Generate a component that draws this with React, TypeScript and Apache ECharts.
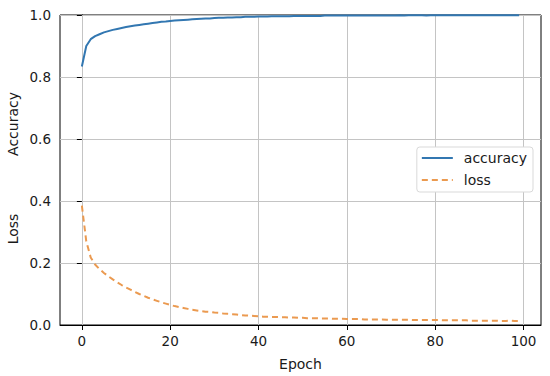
import React, { useEffect, useRef } from "react";
import * as echarts from "echarts";

const epochs: number[] = Array.from({ length: 100 }, (_, i) => i);

const accuracy: number[] = [
  0.834, 0.9, 0.922, 0.932, 0.938, 0.944, 0.948, 0.952, 0.955, 0.958,
  0.961, 0.964, 0.966, 0.968, 0.97, 0.972, 0.974, 0.976, 0.978, 0.979,
  0.981, 0.982, 0.983, 0.984, 0.985, 0.986, 0.987, 0.988, 0.989, 0.989,
  0.99, 0.991, 0.991, 0.992, 0.992, 0.993, 0.993, 0.994, 0.994, 0.994,
  0.995, 0.995, 0.995, 0.996, 0.996, 0.996, 0.996, 0.996, 0.997, 0.997,
  0.997, 0.997, 0.997, 0.997, 0.997, 0.998, 0.998, 0.998, 0.998, 0.998,
  0.998, 0.998, 0.998, 0.998, 0.998, 0.998, 0.998, 0.998, 0.998, 0.998,
  0.998, 0.998, 0.999, 0.998, 0.999, 0.999, 0.999, 0.999, 0.998, 0.999,
  0.999, 0.999, 0.999, 0.999, 0.999, 0.999, 0.999, 0.999, 0.999, 0.999,
  0.999, 0.999, 0.999, 0.999, 0.999, 0.999, 0.999, 0.999, 0.999, 0.999,
];

const loss: number[] = [
  0.385, 0.27, 0.218, 0.195, 0.18, 0.168, 0.157, 0.147, 0.138, 0.129,
  0.121, 0.114, 0.107, 0.1, 0.094, 0.088, 0.083, 0.078, 0.073, 0.069,
  0.065, 0.061, 0.058, 0.055, 0.052, 0.049, 0.047, 0.045, 0.043, 0.042,
  0.04, 0.039, 0.037, 0.036, 0.035, 0.034, 0.032, 0.031, 0.03, 0.029,
  0.028, 0.027, 0.027, 0.026, 0.026, 0.025, 0.025, 0.024, 0.024, 0.023,
  0.023, 0.022, 0.022, 0.022, 0.021, 0.021, 0.021, 0.02, 0.02, 0.02,
  0.019, 0.019, 0.019, 0.019, 0.018, 0.018, 0.018, 0.018, 0.018, 0.017,
  0.017, 0.017, 0.017, 0.017, 0.017, 0.016, 0.016, 0.016, 0.016, 0.016,
  0.016, 0.016, 0.015, 0.015, 0.015, 0.015, 0.015, 0.015, 0.014, 0.014,
  0.014, 0.014, 0.014, 0.014, 0.014, 0.013, 0.013, 0.014, 0.013, 0.013,
];

const xTicks: number[] = [0, 20, 40, 60, 80, 100];
const seriesNames: string[] = ["accuracy", "loss"];

const FONT = "DejaVu Sans";
const TEXT = "#1a1a1a";

export default function App() {
  const ref = useRef<HTMLDivElement>(null);
  useEffect(() => {
    if (!ref.current) return;
    const chart = echarts.init(ref.current, undefined, { renderer: "svg" });
    chart.setOption({
      animation: false,
      backgroundColor: "#ffffff",
      textStyle: { fontFamily: FONT },
      grid: {
        left: 60,
        right: 9,
        top: 15,
        bottom: 50,
        show: true,
        borderColor: "#000000",
        borderWidth: 1,
        backgroundColor: "transparent",
      },
      legend: {
        orient: "vertical",
        right: 17,
        top: 147,
        data: seriesNames,
        itemWidth: 31,
        itemHeight: 14,
        itemGap: 8,
        padding: [4, 6, 5, 4],
        backgroundColor: "#ffffff",
        borderColor: "#d9d9d9",
        borderWidth: 1,
        borderRadius: 3,
        itemStyle: { color: "rgba(0,0,0,0)", borderColor: "rgba(0,0,0,0)", borderWidth: 0 },
        textStyle: { fontFamily: FONT, fontSize: 14, color: TEXT, padding: [0, 0, 0, 6] },
      },
      xAxis: {
        type: "value",
        min: -4.95,
        max: 103.95,
        name: "Epoch",
        nameLocation: "middle",
        nameGap: 32,
        nameTextStyle: { fontFamily: FONT, fontSize: 14, color: TEXT },
        axisLine: { show: true, onZero: false, lineStyle: { color: "#000", width: 1 } },
        axisTick: {
          show: true,
          inside: false,
          length: 5,
          customValues: xTicks,
          lineStyle: { color: "#000" },
        },
        axisLabel: {
          customValues: xTicks,
          margin: 9,
          fontFamily: FONT,
          fontSize: 13.5,
          color: TEXT,
        },
        splitLine: { show: false },
      },
      yAxis: {
        type: "value",
        min: 0,
        max: 1,
        interval: 0.2,
        axisLine: { show: true, lineStyle: { color: "#000", width: 1 } },
        axisTick: { show: true, length: 5, lineStyle: { color: "#000" } },
        axisLabel: {
          margin: 9,
          fontFamily: FONT,
          fontSize: 13.5,
          color: TEXT,
          formatter: (v: number) => v.toFixed(1),
        },
        splitLine: { show: true, lineStyle: { color: "#c4c4c4", width: 1 } },
      },
      graphic: [
        {
          type: "text",
          x: 13,
          y: 124,
          rotation: Math.PI / 2,
          style: {
            text: "Accuracy",
            fontFamily: FONT,
            fontSize: 14,
            fill: TEXT,
            textAlign: "center",
            textVerticalAlign: "middle",
          },
        },
        {
          type: "text",
          x: 13,
          y: 229,
          rotation: Math.PI / 2,
          style: {
            text: "Loss",
            fontFamily: FONT,
            fontSize: 14,
            fill: TEXT,
            textAlign: "center",
            textVerticalAlign: "middle",
          },
        },
      ],
      series: [
        {
          name: "accuracy",
          type: "line",
          data: epochs.map((e, i) => [e, accuracy[i]]),
          showSymbol: false,
          symbol: "none",
          lineStyle: { color: "#3277b1", width: 2 },
          itemStyle: { color: "#3277b1" },
          z: 3,
          markLine: {
            silent: true,
            symbol: "none",
            label: { show: false },
            lineStyle: { color: "#c4c4c4", width: 1, type: "solid" },
            data: xTicks.map((t) => ({ xAxis: t })),
            z: 1,
          },
        },
        {
          name: "loss",
          type: "line",
          data: epochs.map((e, i) => [e, loss[i]]),
          showSymbol: false,
          symbol: "none",
          lineStyle: { color: "#eb9a50", width: 2, type: [6, 4] },
          itemStyle: { color: "#eb9a50" },
          z: 3,
        },
      ],
    });
    return () => chart.dispose();
  }, []);
  return (
    <div
      ref={ref}
      style={{ position: "fixed", left: 0, top: 0, width: 550, height: 376 }}
    />
  );
}
